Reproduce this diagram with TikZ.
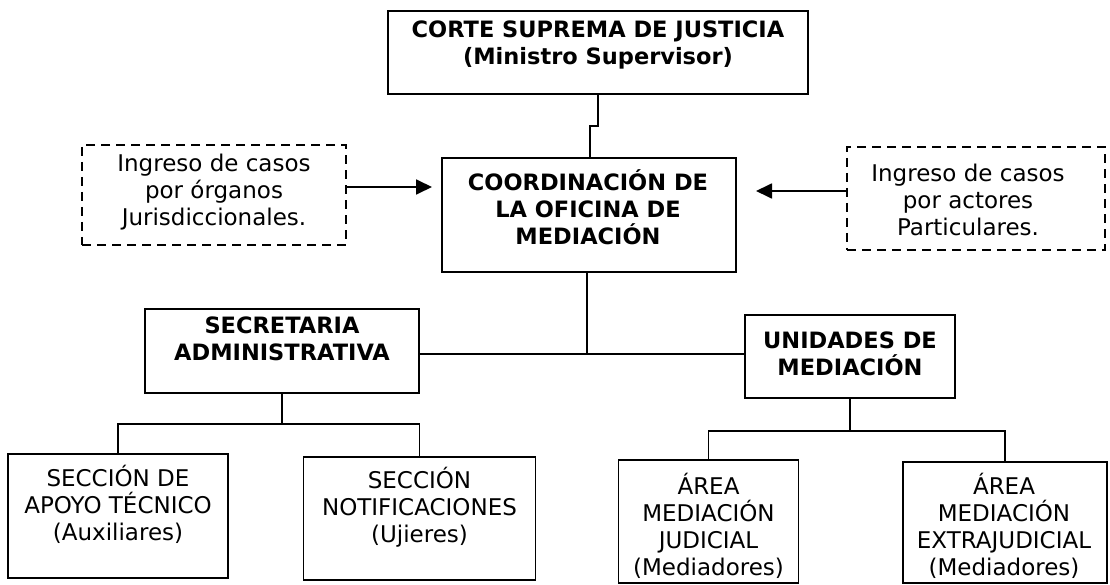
\documentclass[tikz,border=0pt]{standalone}
\usepackage{fontspec}
\setmainfont{DejaVu Sans}
\usetikzlibrary{arrows.meta}
\begin{document}
\begin{tikzpicture}[x=1pt,y=-1pt,
  box/.style={draw, line width=1.8pt, inner sep=0pt},
  dbox/.style={draw, line width=1.8pt, dash pattern=on 9pt off 6pt, inner sep=0pt},
  txt/.style={align=center, inner sep=0pt, font=\fontsize{23}{27}\selectfont},
  btxt/.style={align=center, inner sep=0pt, font=\fontsize{22.5}{27}\selectfont\bfseries},
  conn/.style={line width=1.8pt},
  arr/.style={line width=1.8pt, -{Triangle[length=16pt,width=15pt]}}
]
\useasboundingbox (0,0) rectangle (1110,585);
% boxes
\node[box, minimum width=420pt, minimum height=83pt] (top) at (598,52.5) {};
\node[box, minimum width=294pt, minimum height=114pt] (coord) at (589,215) {};
\node[dbox, minimum width=264pt, minimum height=100pt] (ldash) at (214,195) {};
\node[dbox, minimum width=258pt, minimum height=103pt] (rdash) at (976,198.5) {};
\node[box, minimum width=274pt, minimum height=84pt] (secr) at (282,351) {};
\node[box, minimum width=210pt, minimum height=83pt] (unid) at (850,356.5) {};
\node[box, minimum width=220pt, minimum height=124pt] (apoyo) at (118,516) {};
\node[box, minimum width=232pt, minimum height=123pt] (notif) at (419.5,518.5) {};
\node[box, minimum width=180pt, minimum height=123pt] (jud) at (708.5,521.5) {};
\node[box, minimum width=204pt, minimum height=121pt] (extra) at (1005,522.5) {};
% texts
\node[btxt] (top-t) at (598,45) {CORTE SUPREMA DE JUSTICIA\\(Ministro Supervisor)};
\node[btxt] (coord-t) at (588,207) {COORDINACIÓN DE\\LA OFICINA DE\\MEDIACIÓN};
\node[txt] (ldash-t) at (214,192) {Ingreso de casos\\por órganos\\Jurisdiccionales.};
\node[txt] (rdash-t) at (968,200) {Ingreso de casos\\por actores\\Particulares.};
\node[btxt] (secr-t) at (282,339) {SECRETARIA\\ADMINISTRATIVA};
\node[btxt] (unid-t) at (850,354) {UNIDADES DE\\MEDIACIÓN};
\node[txt] (apoyo-t) at (118,504) {SECCIÓN DE\\APOYO TÉCNICO\\(Auxiliares)};
\node[txt] (notif-t) at (419.5,507) {SECCIÓN\\NOTIFICACIONES\\(Ujieres)};
\node[txt] (jud-t) at (708.5,526) {ÁREA\\MEDIACIÓN\\JUDICIAL\\(Mediadores)};
\node[txt] (extra-t) at (1004,526) {ÁREA\\MEDIACIÓN\\EXTRAJUDICIAL\\(Mediadores)};
% junction coordinates
\coordinate (j1) at (598,126);
\coordinate (j2) at (590,126);
\coordinate (hub) at (587,354);
\coordinate (sb) at (282,424);
\coordinate (ub) at (850,431);
\coordinate (la) at (432,187);
\coordinate (ra) at (756,191);
% connectors
\draw[conn] (j1 |- top.south) -- (j1) -- (j2) -- (j2 |- coord.north);
\draw[conn] (hub |- coord.south) -- (hub);
\draw[conn] (secr.east |- hub) -- (unid.west |- hub);
\draw[conn] (secr.south) -- (sb);
\draw[conn] (apoyo.north) -- (apoyo.north |- sb) -- (notif.north |- sb) -- (notif.north);
\draw[conn] (unid.south) -- (ub);
\draw[conn] (jud.north) -- (jud.north |- ub) -- (extra.north |- ub) -- (extra.north);
\draw[arr] (ldash.east |- la) -- (la);
\draw[arr] (rdash.west |- ra) -- (ra);
\end{tikzpicture}
\end{document}
